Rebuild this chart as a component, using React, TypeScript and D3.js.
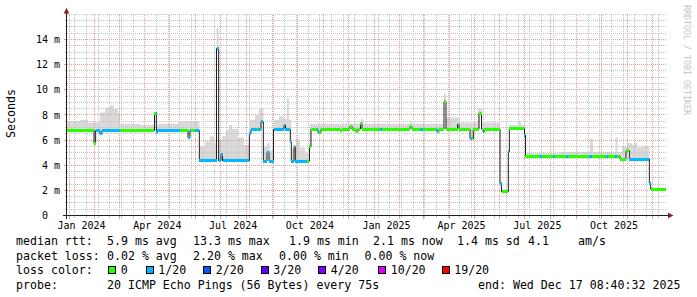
import React from "react";
import * as d3 from "d3";

// ---------- data ----------
const chartStart = "2023-12-29T14:24";
const chartEnd = "2025-12-18T14:24";
const dataEnd = "2025-12-17T08:40:32";
const minorGridAnchor = "2024-01-08";

const medianDates = [
  "2023-12-29T14:24", "2024-01-31", "2024-02-02", "2024-02-07", "2024-02-09T14",
  "2024-04-12T14", "2024-04-14T19", "2024-04-16", "2024-05-22T19", "2024-05-25T05",
  "2024-06-05T10", "2024-06-26", "2024-06-28T14", "2024-07-01T10", "2024-07-03T05",
  "2024-08-04T10", "2024-08-06T10", "2024-08-18T10", "2024-08-21T05", "2024-08-25T14", "2024-08-28",
  "2024-09-02T10", "2024-09-15", "2024-09-16T19", "2024-09-22T14", "2024-09-23T19", "2024-09-27", "2024-09-28T14",
  "2024-10-15T14", "2024-10-17T10", "2024-10-25T19", "2024-10-29T10", "2024-11-21T05", "2024-11-23T14",
  "2024-12-03T05", "2024-12-05T14", "2024-12-10T10", "2024-12-12T19", "2024-12-15T19", "2024-12-17T14",
  "2025-02-13T05", "2025-02-15T14", "2025-03-17T14", "2025-03-20", "2025-03-26", "2025-03-28T10",
  "2025-04-11T05", "2025-04-13", "2025-04-26T05", "2025-04-30T05", "2025-05-07", "2025-05-10",
  "2025-05-11T19", "2025-05-13T14", "2025-06-01T05", "2025-06-03", "2025-06-11T05", "2025-06-12T10",
  "2025-06-30T14", "2025-07-01T19", "2025-10-23T05", "2025-10-30T10", "2025-11-03T10", "2025-11-27T10", "2025-11-29",
];
const medianValues = [
  6.78, 5.73, 6.76, 6.5, 6.76,
  8.08, 6.6, 6.76, 6.2, 6.76,
  4.35, 13.28, 4.35, 4.86, 4.35,
  6.53, 6.85, 7.45, 4.33, 4.99, 4.33,
  6.85, 7.19, 6.85, 5.86, 4.33, 5.46, 4.33,
  5.46, 6.85, 6.6, 6.88, 6.75, 6.88,
  7.11, 6.88, 6.66, 6.88, 7.32, 6.88,
  7.1, 6.88, 6.66, 6.88, 9.04, 6.88,
  7.25, 6.88, 6.1, 6.88, 8.1, 6.88,
  6.66, 6.88, 2.56, 1.89, 5.07, 6.9,
  6.39, 4.73, 4.49, 5.15, 4.49, 2.56, 2.1,
];

const lossDates = [
  "2023-12-29T14:24", "2024-02-02T10", "2024-03-02T05", "2024-04-14T10", "2024-05-13T05", "2024-05-22T05", "2024-05-26T10", "2024-05-31T05",
  "2024-08-13T05", "2024-08-15T05", "2024-10-12T14", "2024-10-24T14", "2024-10-27",
  "2025-01-08T05", "2025-01-10T14", "2025-02-25T05", "2025-02-28T19", "2025-03-16T10", "2025-03-18T19",
  "2025-04-26T05", "2025-04-28", "2025-05-11T19", "2025-05-13T14", "2025-06-01T05", "2025-06-03", "2025-06-11T05", "2025-06-12T10",
  "2025-06-30T14", "2025-07-01T19", "2025-07-19T05", "2025-07-21T14", "2025-08-03T19", "2025-08-06T05", "2025-08-19T10", "2025-08-21T05",
  "2025-09-16T14", "2025-09-19T14", "2025-10-06T10", "2025-10-08T19", "2025-10-17T05", "2025-10-19", "2025-11-03T10", "2025-11-29",
];
const lossCounts = [
  0, 1, 0, 1, 0, 1, 0, 1,
  0, 1, 0, 1, 0,
  1, 0, 1, 0, 1, 0,
  1, 0, 1, 0, 1, 0, 1, 0,
  1, 0, 1, 0, 1, 0, 1, 0,
  1, 0, 1, 0, 1, 0, 1, 0,
];

const smokeDates = [
  "2023-12-29T14:24", "2024-01-14T05", "2024-01-23T19", "2024-02-07T05", "2024-02-13T05", "2024-02-19T05", "2024-02-24", "2024-02-28T19",
  "2024-03-02T05", "2024-03-26T05", "2024-04-12T14", "2024-04-16", "2024-05-10T19",
  "2024-06-05T10", "2024-06-12T05", "2024-06-18T05", "2024-06-23", "2024-06-26", "2024-06-28T14", "2024-07-02T14", "2024-07-07T10", "2024-07-11", "2024-07-14T14", "2024-07-21T19", "2024-07-29",
  "2024-08-04T10", "2024-08-11T05", "2024-08-16", "2024-08-21T05", "2024-08-25T14", "2024-08-29T05",
  "2024-09-02T10", "2024-09-09", "2024-09-15", "2024-09-18T14", "2024-09-21", "2024-09-23T19", "2024-09-29T10", "2024-10-04T05", "2024-10-10T05",
  "2024-10-15T14", "2024-12-16T10", "2024-12-18T19", "2025-02-13T05", "2025-02-15T14", "2025-03-26", "2025-03-28T10", "2025-04-14T05", "2025-05-05T19", "2025-05-10T14",
  "2025-06-01T05", "2025-06-12T10", "2025-06-22T19", "2025-06-26T10",
  "2025-07-01T19", "2025-08-12T05", "2025-09-17T05", "2025-09-20T19", "2025-10-17T19", "2025-10-20T05", "2025-10-25T14", "2025-10-31T14", "2025-11-06T14", "2025-11-09", "2025-11-12T14", "2025-11-17T10", "2025-11-23T10", "2025-11-27T10",
];
const smokeValues = [
  7.5, 7.6, 7.4, 8.2, 8.6, 8.75, 8.5, 8.2,
  7.3, 7.2, 8.15, 7.3, 7.5,
  5.5, 5.9, 6.3, 5.8, 14.9, 6.0, 6.3, 6.8, 7.2, 6.9, 6.2, 5.6,
  7.6, 8.0, 8.5, 5.5, 5.75, 5.2,
  7.6, 7.9, 7.7, 9.3, 7.6, 5.3, 6.0, 5.4, 5.0,
  7.3, 7.7, 7.3, 7.45, 7.3, 9.7, 7.8, 7.4, 8.5, 7.4,
  2.1, 7.2, 7.45, 7.2,
  4.95, 5.05, 6.1, 5.05, 6.25, 5.05, 5.5, 5.75, 5.6, 5.8, 5.4, 5.5, 5.5, 2.2,
];

const lossThresholds = [0, 1, 2, 3, 4, 10, 19];
const lossLabels = ["0", "1/20", "2/20", "3/20", "4/20", "10/20", "19/20"];
const lossColors = ["#26ff00", "#00b8ff", "#0059ff", "#5e00ff", "#7e00ff", "#dd00ff", "#ff0000"];

const yTickValues = [0, 2, 4, 6, 8, 10, 12, 14];
const yTickLabels = [" 0", " 2 m", " 4 m", " 6 m", " 8 m", "10 m", "12 m", "14 m"];

const legendRtt = [
  ["median rtt:", 16], ["5.9 ms avg", 107], ["13.3 ms max", 193], ["1.9 ms min", 289],
  ["2.1 ms now", 373], ["1.4 ms sd", 457], ["4.1", 528], ["am/s", 578],
] as [string, number][];
const legendLoss = [
  ["packet loss:", 16], ["0.02 % avg", 107], ["2.20 % max", 193], ["0.00 % min", 279], ["0.00 % now", 364.5],
] as [string, number][];
const legendBoxX = [108, 145.5, 203, 260.5, 318, 378, 441.5];
const legendProbe = [
  ["probe:", 16], ["20 ICMP Echo Pings (56 Bytes) every 75s", 107], ["end: Wed Dec 17 08:40:32 2025", 478],
] as [string, number][];

// ---------- layout ----------
const W = 697, H = 297;
const X0 = 67, X1 = 667, Y0 = 215.5, Y1 = 13.5;
const Y_MAX = 16.07;
const FONT = "'DejaVu Sans Mono', monospace";
const MINOR = "#c4c4c4";
const MAJOR = "#eb9a9a";

function parseT(s: string): Date {
  const [d, h = "0"] = s.split("T");
  const [Y, M, D] = d.split("-").map(Number);
  const [hh, mm = "0", ss = "0"] = h.split(":");
  return new Date(Date.UTC(Y, M - 1, D, +hh, +mm, +ss));
}

function stepVal(ts: Date[], vs: number[], t: Date) {
  let v = vs[0];
  for (let i = 0; i < ts.length; i++) {
    if (+ts[i] <= +t) v = vs[i];
    else break;
  }
  return v;
}

function colorFor(c: number) {
  let idx = 0;
  lossThresholds.forEach((th, i) => { if (c >= th) idx = i; });
  return lossColors[idx];
}

export default function App() {
  const x = d3.scaleUtc().domain([parseT(chartStart), parseT(chartEnd)]).range([X0, X1]);
  const y = d3.scaleLinear().domain([0, Y_MAX]).range([Y0, Y1]);
  const endT = parseT(dataEnd);

  const mT = medianDates.map(parseT);
  const lT = lossDates.map(parseT);
  const sT = smokeDates.map(parseT);

  const bps = Array.from(new Set([...mT, ...lT, ...sT].map((d) => +d)))
    .sort((a, b) => a - b)
    .map((n) => new Date(n));
  const segs = bps.map((t, i) => ({
    t0: t,
    t1: i < bps.length - 1 ? bps[i + 1] : endT,
    median: stepVal(mT, medianValues, t),
    loss: stepVal(lT, lossCounts, t),
    smoke: stepVal(sT, smokeValues, t),
  }));
  const pts = [...segs.map((s) => ({ t: s.t0, median: s.median, smoke: s.smoke })),
    { t: endT, median: segs[segs.length - 1].median, smoke: segs[segs.length - 1].smoke }];

  const smokeArea = d3.area<{ t: Date; median: number; smoke: number }>()
    .curve(d3.curveStepAfter)
    .x((d) => x(d.t))
    .y0((d) => y(d.median) + 1)
    .y1((d) => y(Math.max(d.smoke, d.median)))(pts) || "";

  const medPts = [...mT.map((t, i) => [t, medianValues[i]] as [Date, number]), [endT, medianValues[medianValues.length - 1]] as [Date, number]];
  const medianLine = d3.line<[Date, number]>()
    .curve(d3.curveStepAfter)
    .x((d) => x(d[0]))
    .y((d) => y(d[1]))(medPts) || "";

  const [d0, d1] = x.domain();
  const anchor = +parseT(minorGridAnchor);
  const wk = 7 * 864e5;
  const minorV = d3.utcMonday.range(d0, d1).filter((d) => {
    const n = Math.round((+d - anchor) / wk);
    return ((n % 2) + 2) % 2 === 0;
  });
  const majorV = d3.utcMonth.range(d0, d1);
  const labelMonths = majorV.filter((m) => m.getUTCMonth() % 3 === 0);
  const minorH = d3.range(0.5, Y_MAX, 0.5).filter((v) => !yTickValues.includes(v));
  const majorH = yTickValues.filter((v) => v > 0);

  const snap = (v: number) => Math.floor(v) + 0.5;
  const fmt = d3.utcFormat("%b %Y");

  return (
    <svg width={W} height={H} style={{ position: "absolute", left: 0, top: 0, background: "#fff" }}
      fontFamily={FONT}>
      <rect x={0} y={0} width={W} height={H} fill="#ffffff" />
      {/* smoke */}
      <path d={smokeArea} fill="#d9d9d9" stroke="none" />
      {/* grid */}
      <g strokeWidth={1} strokeDasharray="1,1" fill="none" shapeRendering="crispEdges">
        {minorV.map((t, i) => (
          <line key={"mv" + i} x1={snap(x(t))} x2={snap(x(t))} y1={Y0} y2={Y1} stroke={MINOR} />
        ))}
        {minorH.map((v, i) => (
          <line key={"mh" + i} x1={X0} x2={X1} y1={snap(y(v))} y2={snap(y(v))} stroke={MINOR} />
        ))}
        {majorV.map((t, i) => (
          <line key={"Mv" + i} x1={snap(x(t))} x2={snap(x(t))} y1={Y0} y2={Y1} stroke={MAJOR} />
        ))}
        {majorH.map((v, i) => (
          <line key={"Mh" + i} x1={X0} x2={X1} y1={snap(y(v))} y2={snap(y(v))} stroke={MAJOR} />
        ))}
      </g>
      {/* ticks */}
      <g strokeWidth={1} shapeRendering="crispEdges">
        {minorV.map((t, i) => (
          <line key={"tmv" + i} x1={snap(x(t))} x2={snap(x(t))} y1={Y0} y2={Y0 + 2} stroke={MINOR} />
        ))}
        {majorV.map((t, i) => (
          <line key={"tMv" + i} x1={snap(x(t))} x2={snap(x(t))} y1={Y0} y2={Y0 + 3} stroke={MAJOR} />
        ))}
        {minorH.map((v, i) => (
          <line key={"tmh" + i} x1={X0 - 2} x2={X0} y1={snap(y(v))} y2={snap(y(v))} stroke={MINOR} />
        ))}
        {majorH.map((v, i) => (
          <line key={"tMh" + i} x1={X0 - 3} x2={X0} y1={snap(y(v))} y2={snap(y(v))} stroke={MAJOR} />
        ))}
      </g>
      {/* median */}
      <path d={medianLine} fill="none" stroke="#202020" strokeWidth={1} />
      <g shapeRendering="crispEdges">
        {segs.map((s, i) => (
          <rect key={"b" + i} x={x(s.t0)} width={Math.max(0.5, x(s.t1) - x(s.t0))}
            y={y(s.median) - 1.5} height={3} fill={colorFor(s.loss)} />
        ))}
      </g>
      {/* axes */}
      <g shapeRendering="crispEdges" stroke="#1f1f1f" strokeWidth={1}>
        <line x1={X0 - 0.5} x2={X0 - 0.5} y1={Y0 + 3} y2={11} />
        <line x1={X0 - 4} x2={671} y1={Y0} y2={Y0} />
      </g>
      <path d={`M${X0 - 0.5},8 L${X0 - 3.3},13.5 L${X0 + 2.3},13.5 Z`} fill="#801f1f" />
      <path d={`M673.5,${Y0} L668,${Y0 - 2.8} L668,${Y0 + 2.8} Z`} fill="#801f1f" />
      {/* y labels */}
      <g fontSize={10} fill="#000" style={{ whiteSpace: "pre" }}>
        {yTickValues.map((v, i) => (
          <text key={"yl" + i} x={36} y={y(v) + 3.6} xmlSpace="preserve">{yTickLabels[i]}</text>
        ))}
      </g>
      {/* x labels */}
      <g fontSize={10} fill="#000" textAnchor="middle">
        {labelMonths.map((m, i) => (
          <text key={"xl" + i} x={x(d3.utcDay.offset(m, 15))} y={228.5}>{fmt(m)}</text>
        ))}
      </g>
      {/* titles */}
      <text transform="translate(14.5,113.5) rotate(-90)" textAnchor="middle" fontSize={11.6} fill="#000">Seconds</text>
      <text transform="translate(684,5) rotate(90)" fontSize={8.3} fill="#c4c4c4">RRDTOOL / TOBI OETIKER</text>
      {/* legend */}
      <g fontSize={11.6} fill="#000" style={{ whiteSpace: "pre" }}>
        {legendRtt.map(([s, px], i) => (
          <text key={"l1" + i} x={px} y={245}>{s}</text>
        ))}
        {legendLoss.map(([s, px], i) => (
          <text key={"l2" + i} x={px} y={259.5}>{s}</text>
        ))}
        <text x={16} y={274}>loss color:</text>
        {lossLabels.map((s, i) => (
          <g key={"lb" + i}>
            <rect x={Math.round(legendBoxX[i]) + 0.5} y={266.5} width={7} height={7}
              fill={lossColors[i]} stroke="#000" strokeWidth={1} shapeRendering="crispEdges" />
            <text x={legendBoxX[i] + 12.7} y={274}>{s}</text>
          </g>
        ))}
        {legendProbe.map(([s, px], i) => (
          <text key={"l4" + i} x={px} y={288.5}>{s}</text>
        ))}
      </g>
    </svg>
  );
}
